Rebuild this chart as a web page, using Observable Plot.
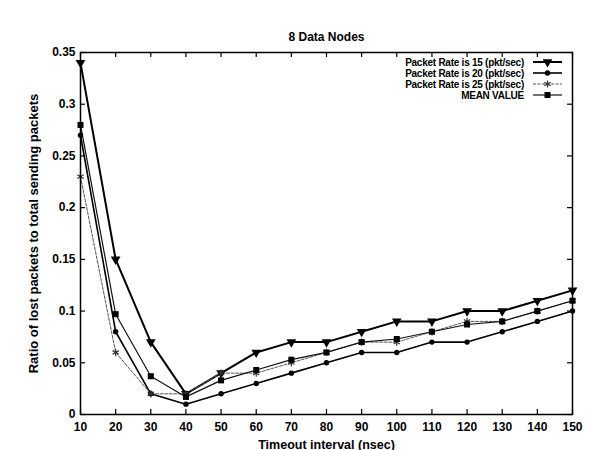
<!DOCTYPE html>
<html>
<head>
<meta charset="utf-8">
<script src="https://cdn.jsdelivr.net/npm/d3@7"></script>
<script src="https://cdn.jsdelivr.net/npm/@observablehq/plot@0.6"></script>
<style>
  html, body { margin: 0; padding: 0; background: #fff; }
  #wrap { position: relative; width: 597px; height: 450px; }
</style>
</head>
<body>
<div id="wrap"></div>
<script>
const timeout = [10, 20, 30, 40, 50, 60, 70, 80, 90, 100, 110, 120, 130, 140, 150];
const rate15 = [0.34, 0.15, 0.07, 0.02, 0.04, 0.06, 0.07, 0.07, 0.08, 0.09, 0.09, 0.10, 0.10, 0.11, 0.12];
const rate20 = [0.27, 0.08, 0.02, 0.01, 0.02, 0.03, 0.04, 0.05, 0.06, 0.06, 0.07, 0.07, 0.08, 0.09, 0.10];
const rate25 = [0.23, 0.06, 0.02, 0.02, 0.04, 0.04, 0.05, 0.06, 0.07, 0.07, 0.08, 0.09, 0.09, 0.10, 0.11];
const meanValue = [0.28, 0.097, 0.037, 0.017, 0.033, 0.043, 0.053, 0.06, 0.07, 0.073, 0.08, 0.087, 0.09, 0.10, 0.11];
const seriesNames = ["Packet Rate is 15 (pkt/sec)", "Packet Rate is 20 (pkt/sec)", "Packet Rate is 25 (pkt/sec)", "MEAN VALUE"];
const xTicks = [10, 20, 30, 40, 50, 60, 70, 80, 90, 100, 110, 120, 130, 140, 150];
const yTicks = [0, 0.05, 0.1, 0.15, 0.2, 0.25, 0.3, 0.35];
const titleText = "8 Data Nodes";
const xLabel = "Timeout interval (nsec)";
const yLabel = "Ratio of lost packets to total sending packets";

const seriesValues = [rate15, rate20, rate25, meanValue];
const styles = [
  {stroke: "#000", strokeWidth: 2, dash: null, symbol: "triangle", r: 3.6, rotate: 180, fill: "#000"},
  {stroke: "#000", strokeWidth: 1.6, dash: null, symbol: "circle", r: 2.7, rotate: 0, fill: "#000"},
  {stroke: "#555", strokeWidth: 1, dash: "3,1.5", symbol: "asterisk", r: 3.4, rotate: 0, fill: "none"},
  {stroke: "#111", strokeWidth: 1.2, dash: null, symbol: "square", r: 3.4, rotate: 0, fill: "#000"}
];

const rows = seriesValues.map((vals, i) => timeout.map((t, j) => ({x: t, y: vals[j], s: seriesNames[i]})));

const W = 597, H = 450, mL = 80, mR = 25, mT = 52, mB = 36;
const fw = W - mL - mR, fh = H - mT - mB;

const marks = [];
rows.forEach((data, i) => {
  const st = styles[i];
  marks.push(Plot.line(data, {x: "x", y: "y", stroke: st.stroke, strokeWidth: st.strokeWidth, strokeDasharray: st.dash}));
});
rows.forEach((data, i) => {
  const st = styles[i];
  marks.push(Plot.dot(data, {x: "x", y: "y", symbol: () => st.symbol, r: st.r, rotate: st.rotate,
    fill: st.fill, stroke: st.symbol === "asterisk" ? "#333" : "none", strokeWidth: 1.2}));
});

const chart = Plot.plot({
  width: W, height: H,
  marginLeft: mL, marginRight: mR, marginTop: mT, marginBottom: mB,
  style: {fontFamily: "'Liberation Sans', Arial, sans-serif", fontSize: "12px", fontWeight: "bold", background: "#fff", color: "#000"},
  x: {domain: [10, 150]},
  y: {domain: [0, 0.35]},
  symbol: {type: "identity"},
  marks: [
    Plot.tickX(xTicks, {x: d => d, insetTop: fh - 5, stroke: "#000", strokeWidth: 1.2}),
    Plot.tickX(xTicks, {x: d => d, insetBottom: fh - 5, stroke: "#000", strokeWidth: 1.2}),
    Plot.tickY(yTicks, {y: d => d, insetRight: fw - 5, stroke: "#000", strokeWidth: 1.2}),
    Plot.tickY(yTicks, {y: d => d, insetLeft: fw - 5, stroke: "#000", strokeWidth: 1.2}),
    Plot.axisX({ticks: xTicks, tickSize: 0, tickPadding: 8, label: null, fontSize: 12, fontWeight: "bold"}),
    Plot.axisY({ticks: yTicks, tickSize: 0, tickPadding: 5, label: null, fontSize: 12, fontWeight: "bold",
      tickFormat: d => String(+d.toFixed(2))}),
    ...marks,
    Plot.frame({stroke: "#000", strokeWidth: 1.5}),
    Plot.text([titleText], {text: d => d, frameAnchor: "top", lineAnchor: "middle", dy: -15, fontSize: 12, fontWeight: "bold"}),
    Plot.text([xLabel], {text: d => d, frameAnchor: "bottom", lineAnchor: "middle", dy: 30, fontSize: 12.5, fontWeight: "bold"}),
    Plot.text([yLabel], {text: d => d, frameAnchor: "left", textAnchor: "middle", lineAnchor: "middle", dx: -47, rotate: -90, fontSize: 13, fontWeight: "bold"})
  ]
});
document.getElementById("wrap").appendChild(chart);

// legend (inside top-right of frame)
const svg = d3.select(chart.tagName.toLowerCase() === "svg" ? chart : chart.querySelector("svg"));
const lg = svg.append("g").attr("font-family", "'Liberation Sans', Arial, sans-serif")
  .attr("font-size", 10).attr("font-weight", "bold");
const textRight = 524, lineX1 = 533, lineX2 = 562, rowY0 = 62, rowDy = 11;
const symMap = {triangle: d3.symbolTriangle, circle: d3.symbolCircle, asterisk: d3.symbolAsterisk, square: d3.symbolSquare};
seriesNames.forEach((name, i) => {
  const st = styles[i];
  const y = rowY0 + i * rowDy;
  lg.append("text").attr("x", textRight).attr("y", y).attr("dy", "0.35em")
    .attr("text-anchor", "end").attr("letter-spacing", "-0.25").text(name);
  lg.append("line").attr("x1", lineX1).attr("x2", lineX2).attr("y1", y).attr("y2", y)
    .attr("stroke", st.stroke).attr("stroke-width", st.strokeWidth)
    .attr("stroke-dasharray", st.dash);
  const size = Math.PI * st.r * st.r;
  lg.append("path").attr("d", d3.symbol(symMap[st.symbol], size)())
    .attr("transform", `translate(${(lineX1 + lineX2) / 2},${y}) rotate(${st.rotate})`)
    .attr("fill", st.fill).attr("stroke", st.symbol === "asterisk" ? "#333" : "none").attr("stroke-width", 1.2);
});
</script>
</body>
</html>
